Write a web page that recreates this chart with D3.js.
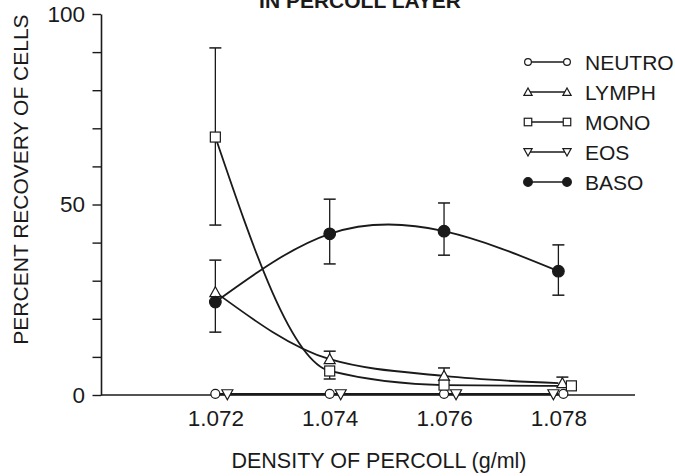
<!DOCTYPE html>
<html>
<head>
<meta charset="utf-8">
<script src="https://cdn.jsdelivr.net/npm/d3@7"></script>
<style>
  body { margin: 0; background: #fff; }
  svg { display: block; font-family: "Liberation Sans", Arial, sans-serif; }
</style>
</head>
<body>
<svg id="chart" width="675" height="476"></svg>
<script>
// densities of the Percoll layers
const densities = [1.072, 1.074, 1.076, 1.078];

// percent recovery for each cell type
const neutro = [0.3, 0.3, 0.3, 0.3];
const lymph  = [27, 9.4, 5.0, 3.1];
const mono   = [67.7, 6.3, 2.6, 2.4];
const eos    = [0.2, 0.2, 0.2, 0.2];
const baso   = [24.4, 42.3, 43.0, 32.5];

// error bar halves (only the parts visible in the figure)
const lymphErrUp   = [8.4, 2.1, 2.1, 1.6];
const monoErrUp    = [23.4, null, null, null];
const monoErrDown  = [23.1, 2.1, null, null];
const basoErrUp    = [null, 9.1, 7.4, 6.9];
const basoErrDown  = [7.9, 7.9, 6.3, 6.3];

const yTicks = [0, 10, 20, 30, 40, 50, 60, 70, 80, 90, 100];
const yTickLabels = [0, 50, 100];

const svg = d3.select('#chart');

const xScale = d3.scaleLinear().domain([1.0700, 1.07934]).range([101, 635]);
const yScale = d3.scaleLinear().domain([0, 100]).range([395, 14]);

const ink = '#1a1a1a';
const font = '"Liberation Sans", Arial, sans-serif';

// series definitions; dx nudges overlapping markers apart (pixels)
const series = [
  { name: 'NEUTRO', values: neutro, shape: 'circle', fill: '#fff', curve: d3.curveMonotoneX, dx: [0, 0, 0, 5] },
  { name: 'LYMPH', values: lymph, shape: 'triUp', fill: '#fff', curve: d3.curveMonotoneX, dx: [0, 0, 0, 4], up: lymphErrUp },
  { name: 'MONO', values: mono, shape: 'square', fill: '#fff', curve: d3.curveMonotoneX, dx: [0, 0, 0, 13], up: monoErrUp, down: monoErrDown },
  { name: 'EOS', values: eos, shape: 'triDown', fill: '#fff', curve: d3.curveMonotoneX, dx: [12, 11, 12, -5] },
  { name: 'BASO', values: baso, shape: 'circle', fill: ink, curve: d3.curveNatural, dx: [0, 0, 0, 0], up: basoErrUp, down: basoErrDown }
];

function drawMarker(g, shape, fill, x, y, k = 1) {
  if (shape === 'circle') {
    g.append('circle').attr('cx', x).attr('cy', y)
      .attr('r', (fill === '#fff' ? 4.5 : 5.8) * k)
      .attr('fill', fill).attr('stroke', ink).attr('stroke-width', 1.2);
  } else if (shape === 'square') {
    g.append('rect').attr('x', x - 5 * k).attr('y', y - 5 * k).attr('width', 10 * k).attr('height', 10 * k)
      .attr('fill', fill).attr('stroke', ink).attr('stroke-width', 1.2);
  } else {
    const s = shape === 'triUp' ? 1 : -1;
    const pts = [[x - 5.5 * k, y + 4.5 * s * k], [x + 5.5 * k, y + 4.5 * s * k], [x, y - 5.5 * s * k]];
    g.append('polygon').attr('points', pts.map(p => p.join(',')).join(' '))
      .attr('fill', fill).attr('stroke', ink).attr('stroke-width', 1.2);
  }
}

// axes
svg.append('line')
  .attr('x1', xScale.range()[0]).attr('x2', xScale.range()[1])
  .attr('y1', yScale(0)).attr('y2', yScale(0))
  .attr('stroke', ink).attr('stroke-width', 1.6);

const yAxis = svg.append('g')
  .attr('transform', `translate(${xScale.range()[0]},0)`)
  .call(d3.axisLeft(yScale).tickValues(yTicks).tickSize(8.5).tickSizeOuter(0)
    .tickFormat(d => yTickLabels.includes(d) ? d : ''));
yAxis.select('.domain').attr('stroke', ink).attr('stroke-width', 1.6);
yAxis.selectAll('.tick line').attr('stroke', ink).attr('stroke-width', 1.4);
yAxis.selectAll('.tick text')
  .attr('x', -16).attr('font-size', 22.5).attr('font-family', font).attr('fill', ink);

const xAxis = svg.append('g')
  .attr('transform', `translate(0,${yScale(0)})`)
  .call(d3.axisBottom(xScale).tickValues(densities).tickSize(0).tickFormat(d3.format('.3f')));
xAxis.select('.domain').remove();
xAxis.selectAll('.tick text')
  .attr('y', 15).attr('font-size', 22.5).attr('font-family', font).attr('fill', ink);

// curves
const line = d3.line().x(d => xScale(d[0])).y(d => yScale(d[1]));
series.forEach(s => {
  svg.append('path')
    .datum(densities.map((d, i) => [d, s.values[i]]))
    .attr('d', line.curve(s.curve))
    .attr('fill', 'none').attr('stroke', ink).attr('stroke-width', 1.8);
});

// error bars
series.forEach(s => {
  densities.forEach((d, i) => {
    const x = xScale(d) + s.dx[i];
    [[s.up, 1], [s.down, -1]].forEach(([arr, sign]) => {
      if (!arr || arr[i] == null) return;
      const y0 = yScale(s.values[i]);
      const y1 = yScale(s.values[i] + sign * arr[i]);
      svg.append('line').attr('x1', x).attr('x2', x).attr('y1', y0).attr('y2', y1)
        .attr('stroke', ink).attr('stroke-width', 1.3);
      svg.append('line').attr('x1', x - 6).attr('x2', x + 6).attr('y1', y1).attr('y2', y1)
        .attr('stroke', ink).attr('stroke-width', 1.5);
    });
  });
});

// markers
series.forEach(s => {
  const g = svg.append('g');
  densities.forEach((d, i) => drawMarker(g, s.shape, s.fill, xScale(d) + s.dx[i], yScale(s.values[i])));
});

// legend
const legend = svg.append('g').attr('transform', 'translate(528,62)');
series.forEach((s, i) => {
  const row = legend.append('g').attr('transform', `translate(0,${i * 30})`);
  row.append('line').attr('x1', 0).attr('x2', 39).attr('y1', 0).attr('y2', 0)
    .attr('stroke', ink).attr('stroke-width', 1.4);
  drawMarker(row, s.shape, s.fill, 0, 0, 0.75);
  drawMarker(row, s.shape, s.fill, 39, 0, 0.75);
  row.append('text').attr('x', 57).attr('y', 0).attr('dy', '0.36em')
    .attr('font-size', 21).attr('fill', ink).text(s.name);
});

// axis titles
svg.append('text')
  .attr('transform', `translate(28,${(yScale(0) + yScale(100)) / 2 - 25}) rotate(-90)`)
  .attr('text-anchor', 'middle').attr('font-size', 21).attr('fill', ink)
  .text('PERCENT RECOVERY OF CELLS');

svg.append('text')
  .attr('x', 379).attr('y', 468)
  .attr('text-anchor', 'middle').attr('font-size', 21.5).attr('fill', ink)
  .text('DENSITY OF PERCOLL (g/ml)');

// cropped heading at the very top
svg.append('text')
  .attr('x', 360).attr('y', 8)
  .attr('text-anchor', 'middle').attr('font-size', 21).attr('font-weight', 'bold').attr('fill', ink)
  .text('IN PERCOLL LAYER');
</script>
</body>
</html>
